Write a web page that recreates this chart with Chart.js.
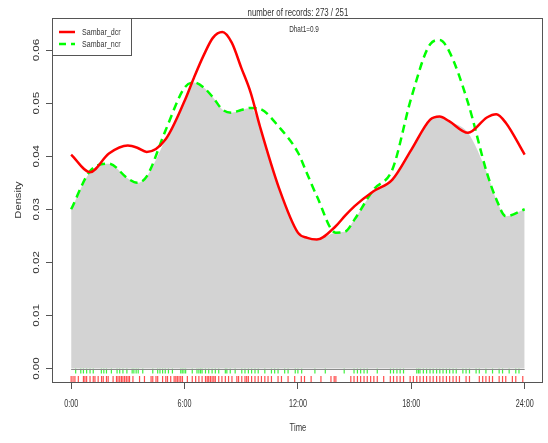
<!DOCTYPE html>
<html>
<head>
<meta charset="utf-8">
<script src="https://cdn.jsdelivr.net/npm/chart.js@4/dist/chart.umd.min.js"></script>
<style>
  html, body { margin: 0; padding: 0; background: #ffffff; }
  #wrap { width: 548px; height: 443px; }
</style>
</head>
<body>
<div id="wrap"><canvas id="c" width="548" height="443"></canvas></div>
<script>
// Kernel density estimates of activity time (hours) for the two groups
const HOURS = [0, 1, 2, 3, 3.5, 4, 5, 6, 6.5, 7, 7.5, 8, 8.5, 9, 9.5, 10, 11, 12, 12.5, 13,
               14, 14.5, 15, 16, 17, 18, 19, 19.5, 20, 21, 22, 22.5, 23, 24];
const DCR = [0.0403, 0.0370, 0.0405, 0.0420, 0.0416, 0.0408, 0.0432, 0.0504, 0.0548, 0.0589,
             0.0623, 0.0634, 0.0614, 0.0567, 0.0520, 0.0455, 0.0340, 0.0256, 0.0246, 0.0243,
             0.0268, 0.0288, 0.0306, 0.0334, 0.0356, 0.0412, 0.0469, 0.0475, 0.0466, 0.0444,
             0.0473, 0.0479, 0.0463, 0.0403];
const NCR = [0.0300, 0.0372, 0.0386, 0.0358, 0.0350, 0.0362, 0.0449, 0.0529, 0.0539, 0.0530,
             0.0511, 0.0488, 0.0482, 0.0487, 0.0491, 0.0489, 0.0455, 0.0407, 0.0366, 0.0325,
             0.0256, 0.0258, 0.0281, 0.0337, 0.0375, 0.0510, 0.0611, 0.0619, 0.0598, 0.0501,
             0.0369, 0.0319, 0.0287, 0.0300];

// Individual record times (hours) shown as rug ticks
const DCR_RUG = [0.0,0.1,0.2,0.38,0.65,0.73,0.82,1.0,1.17,1.26,1.43,1.61,1.7,1.87,1.96,2.22,2.4,2.48,2.57,2.66,
  2.74,2.83,2.92,3.01,3.09,3.27,3.62,3.88,4.23,4.32,4.49,4.58,4.84,5.01,5.1,5.27,5.45,5.54,5.62,5.71,5.8,5.89,
  6.15,6.41,6.59,6.76,6.93,7.11,7.2,7.28,7.37,7.46,7.55,7.63,7.81,7.98,8.16,8.33,8.51,8.77,8.86,9.03,9.2,9.29,
  9.38,9.55,9.73,9.9,10.07,10.25,10.42,10.6,10.95,11.13,11.48,11.83,12.18,12.35,12.7,13.22,13.75,13.92,14.01,
  14.8,14.97,15.15,15.32,15.5,15.67,15.85,16.02,16.2,16.54,16.89,17.06,17.24,17.41,17.59,17.94,18.11,18.29,
  18.46,18.64,18.81,18.99,19.16,19.34,19.51,19.68,19.86,20.03,20.21,20.38,20.55,20.9,21.08,21.6,21.78,21.95,
  22.13,22.3,22.65,22.83,23.0,23.35,23.53,23.9];
const NCR_RUG = [0.24,0.51,0.65,0.82,1.0,1.17,1.6,1.73,1.87,2.13,2.43,2.57,2.74,2.95,3.23,3.32,3.44,3.55,3.79,
  4.32,4.58,4.7,4.84,4.98,5.15,5.36,5.8,5.88,5.97,6.06,6.41,6.66,6.76,6.85,6.93,7.11,7.28,7.46,7.63,7.81,8.16,
  8.24,8.42,8.68,9.03,9.2,9.38,9.55,9.73,9.9,10.25,10.6,10.77,10.95,11.3,11.48,11.86,12.0,12.2,12.9,13.45,
  14.45,14.97,15.15,15.32,15.5,15.67,16.2,16.9,17.06,17.24,17.41,17.59,18.29,18.38,18.46,18.64,18.81,18.99,
  19.16,19.34,19.51,19.68,19.86,20.03,20.21,20.38,20.73,20.9,21.08,21.43,21.6,21.95,22.3,22.65,22.83,23.18,
  23.53,23.7];

const X_TICKS = [0, 6, 12, 18, 24];
const X_LABELS = ['0:00', '6:00', '12:00', '18:00', '24:00'];
const Y_TICKS = [0, 0.01, 0.02, 0.03, 0.04, 0.05, 0.06];
const Y_LABELS = ['0.00', '0.01', '0.02', '0.03', '0.04', '0.05', '0.06'];
const SERIES = ['Sambar_dcr', 'Sambar_ncr'];
const TITLE = 'number of records: 273 / 251';
const NOTE = 'Dhat1=0.9';
const X_TITLE = 'Time';
const Y_TITLE = 'Density';

// Axis extents: 4% padding around the data range
const X_MIN = -0.96, X_MAX = 24.96;
const Y_MIN = -0.00254, Y_MAX = 0.06604;
// Vertical placement of the two rug rows (below the zero line)
const RUG_Y_NCR = -0.00047;
const RUG_Y_DCR = -0.00198;

const RED = '#ff0000';
const GREEN = '#00ff00';
const INK = '#333333';
const FRAME = '#555555';
const SQUEEZE = 0.72;
const FAMILY = '"Liberation Sans", Arial, sans-serif';

const overlap = HOURS.map((h, i) => ({ x: h, y: Math.min(DCR[i], NCR[i]) }));

function drawText(ctx, s, x, y, size, align, rotated, squeeze) {
  ctx.save();
  ctx.translate(x, y);
  if (rotated) {
    ctx.rotate(-Math.PI / 2);
    ctx.scale(1, squeeze);
  } else {
    ctx.scale(squeeze, 1);
  }
  ctx.font = size + 'px ' + FAMILY;
  ctx.fillStyle = INK;
  ctx.textAlign = align;
  ctx.textBaseline = 'middle';
  ctx.fillText(s, 0, 0);
  ctx.restore();
}

const decorations = {
  id: 'decorations',
  afterDatasetsDraw(chart) {
    const { ctx, scales: { x, y } } = chart;
    // zero line under the overlap area
    ctx.save();
    ctx.strokeStyle = '#8a8a8a';
    ctx.lineWidth = 1;
    const y0 = Math.round(y.getPixelForValue(0)) + 0.5;
    ctx.beginPath();
    ctx.moveTo(x.getPixelForValue(0), y0);
    ctx.lineTo(x.getPixelForValue(24), y0);
    ctx.stroke();
    ctx.restore();
  },
  afterDraw(chart) {
    const { ctx, chartArea: a, scales: { x, y } } = chart;
    ctx.save();
    // plot frame
    ctx.strokeStyle = FRAME;
    ctx.lineWidth = 1;
    ctx.strokeRect(Math.round(a.left) - 0.5, Math.round(a.top) + 0.5,
                   Math.round(a.right - a.left), Math.round(a.bottom - a.top));

    // y tick labels (parallel to the axis)
    Y_TICKS.forEach((v, i) => {
      drawText(ctx, Y_LABELS[i], 37, y.getPixelForValue(v), 11.6, 'center', true, 0.76);
    });
    // x tick labels
    X_TICKS.forEach((v, i) => {
      drawText(ctx, X_LABELS[i], x.getPixelForValue(v), 404, 10, 'center', false, SQUEEZE);
    });
    // axis titles
    drawText(ctx, X_TITLE, (a.left + a.right) / 2, 428, 10.6, 'center', false, SQUEEZE);
    drawText(ctx, Y_TITLE, 19, (a.top + a.bottom) / 2, 11.2, 'center', true, 0.76);
    // main title and overlap note
    drawText(ctx, TITLE, (a.left + a.right) / 2, 13, 10.9, 'center', false, SQUEEZE);
    drawText(ctx, NOTE, 304, 30, 8.9, 'center', false, SQUEEZE);

    // legend box
    const lx = Math.round(a.left) - 0.5, ly = Math.round(a.top) + 0.5;
    ctx.fillStyle = '#ffffff';
    ctx.fillRect(lx, ly, 79, 37);
    ctx.strokeStyle = FRAME;
    ctx.strokeRect(lx, ly, 79, 37);
    ctx.lineWidth = 2.5;
    ctx.strokeStyle = RED;
    ctx.beginPath(); ctx.moveTo(59, 32); ctx.lineTo(75, 32); ctx.stroke();
    ctx.strokeStyle = GREEN;
    ctx.setLineDash([7, 5]);
    ctx.beginPath(); ctx.moveTo(59, 44); ctx.lineTo(75, 44); ctx.stroke();
    ctx.setLineDash([]);
    drawText(ctx, SERIES[0], 82, 32, 9.9, 'left', false, SQUEEZE);
    drawText(ctx, SERIES[1], 82, 44, 9.9, 'left', false, SQUEEZE);
    ctx.restore();
  }
};

new Chart(document.getElementById('c'), {
  type: 'line',
  data: {
    datasets: [
      {
        label: SERIES[0],
        data: HOURS.map((h, i) => ({ x: h, y: DCR[i] })),
        borderColor: RED,
        borderWidth: 2.5,
        pointRadius: 0,
        fill: false,
        cubicInterpolationMode: 'monotone',
        order: 1
      },
      {
        label: SERIES[1],
        data: HOURS.map((h, i) => ({ x: h, y: NCR[i] })),
        borderColor: GREEN,
        borderWidth: 2.5,
        borderDash: [8, 5],
        pointRadius: 0,
        fill: false,
        cubicInterpolationMode: 'monotone',
        order: 2
      },
      {
        label: 'overlap',
        data: overlap,
        borderWidth: 0,
        borderColor: 'rgba(0,0,0,0)',
        backgroundColor: '#d3d3d3',
        pointRadius: 0,
        fill: 'origin',
        cubicInterpolationMode: 'monotone',
        order: 3
      },
      {
        type: 'scatter',
        label: 'ncr records',
        data: NCR_RUG.map(t => ({ x: t, y: RUG_Y_NCR })),
        pointStyle: 'line',
        rotation: 90,
        radius: 2.6,
        borderWidth: 1.2,
        borderColor: 'rgba(0,235,0,0.75)',
        order: 4
      },
      {
        type: 'scatter',
        label: 'dcr records',
        data: DCR_RUG.map(t => ({ x: t, y: RUG_Y_DCR })),
        pointStyle: 'line',
        rotation: 90,
        radius: 3,
        borderWidth: 1.2,
        borderColor: 'rgba(255,0,0,0.7)',
        order: 4
      }
    ]
  },
  options: {
    responsive: false,
    animation: false,
    devicePixelRatio: 1,
    events: [],
    layout: { padding: { top: 18, right: 1, left: 0, bottom: 0 } },
    plugins: { legend: { display: false }, tooltip: { enabled: false } },
    scales: {
      x: {
        type: 'linear',
        min: X_MIN,
        max: X_MAX,
        afterBuildTicks: s => { s.ticks = X_TICKS.map(v => ({ value: v })); },
        afterFit: s => { s.height = 61; },
        grid: { drawOnChartArea: false, drawTicks: true, tickLength: 7, color: FRAME },
        border: { display: false },
        ticks: { display: false }
      },
      y: {
        type: 'linear',
        min: Y_MIN,
        max: Y_MAX,
        afterBuildTicks: s => { s.ticks = Y_TICKS.map(v => ({ value: v })); },
        afterFit: s => { s.width = 53; },
        grid: { drawOnChartArea: false, drawTicks: true, tickLength: 7, color: FRAME },
        border: { display: false },
        ticks: { display: false }
      }
    }
  },
  plugins: [decorations]
});
</script>
</body>
</html>
